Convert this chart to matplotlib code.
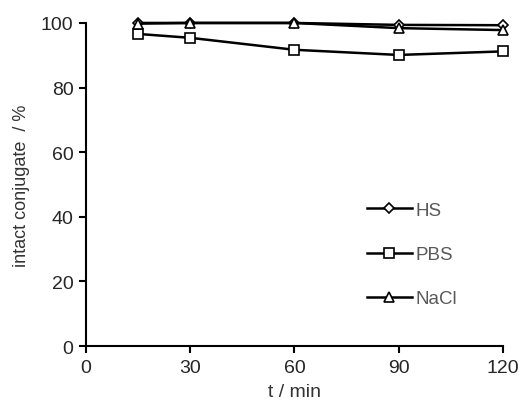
import matplotlib.pyplot as plt

plt.rcParams['font.family'] = ['Liberation Sans', 'DejaVu Sans']

# data
t_min = [15, 30, 60, 90, 120]
hs = [100, 100, 100, 99.4, 99.3]
pbs = [96.6, 95.4, 91.7, 90.1, 91.2]
nacl = [99.8, 100, 100, 98.4, 97.8]

fig = plt.figure(figsize=(5.31, 4.06), dpi=100)
ax = fig.add_axes([0.162, 0.145, 0.785, 0.796])

ax.plot(t_min, hs, '-D', color='black', lw=1.8, ms=5.5, mfc='white', mec='black',
        mew=1.2, label='HS', clip_on=False)
ax.plot(t_min, pbs, '-s', color='black', lw=1.8, ms=7, mfc='white', mec='black',
        mew=1.2, label='PBS', clip_on=False)
ax.plot(t_min, nacl, '-^', color='black', lw=1.8, ms=7, mfc='white', mec='black',
        mew=1.2, label='NaCl', clip_on=False)

ax.set_xlim(0, 120)
ax.set_ylim(0, 100)
ax.set_xticks([0, 30, 60, 90, 120])
ax.set_yticks([0, 20, 40, 60, 80, 100])
ax.spines[['top', 'right']].set_visible(False)
ax.spines['left'].set_linewidth(1.5)
ax.spines['bottom'].set_linewidth(1.5)
ax.tick_params(direction='out', length=5, width=1.5, labelsize=14,
               labelcolor='#262626', pad=4)

ax.set_xlabel('t / min', fontsize=14, color='#333333', labelpad=5)
ax.set_ylabel('intact conjugate  / %', fontsize=13, color='#333333', labelpad=8)

leg = ax.legend(loc='upper left', bbox_to_anchor=(0.655, 0.47), frameon=False,
                fontsize=13.5, labelspacing=1.45, handlelength=2.4,
                handletextpad=0.2, borderaxespad=0)
for txt in leg.get_texts():
    txt.set_color('#595959')

fig.savefig('out.png', dpi=100)
